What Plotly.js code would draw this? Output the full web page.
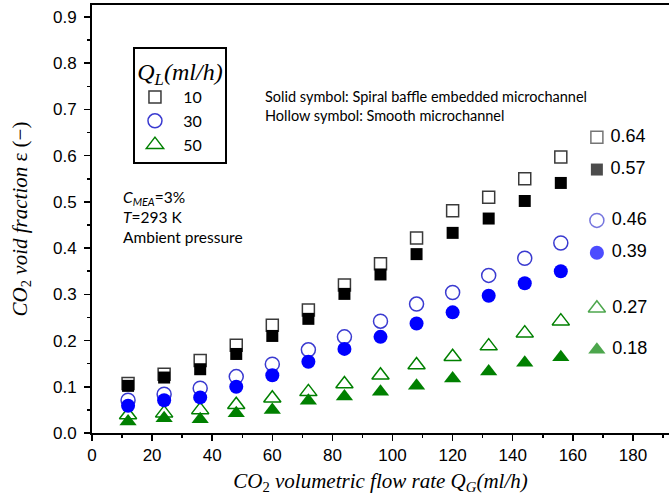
<!DOCTYPE html>
<html>
<head>
<meta charset="utf-8">
<script src="https://cdn.plot.ly/plotly-3.0.1.min.js"></script>
<style>html,body{margin:0;padding:0;background:#fff;}#chart{width:669px;height:495px;}</style>
</head>
<body>
<div id="chart"></div>
<script>
// CO2 volumetric flow rate Q_G (ml/h)
const flowRateQG = [12, 24, 36, 48, 60, 72, 84, 96, 108, 120, 132, 144, 156];

// Void fraction, hollow = smooth microchannel, solid = spiral baffle embedded microchannel
const smoothQL10 = [0.107, 0.127, 0.157, 0.190, 0.233, 0.266, 0.320, 0.366, 0.422, 0.481, 0.510, 0.550, 0.597];
const spiralQL10 = [0.102, 0.120, 0.138, 0.171, 0.210, 0.247, 0.301, 0.343, 0.387, 0.433, 0.464, 0.502, 0.541];
const smoothQL30 = [0.071, 0.084, 0.097, 0.122, 0.149, 0.180, 0.208, 0.242, 0.279, 0.304, 0.341, 0.378, 0.411];
const spiralQL30 = [0.059, 0.071, 0.077, 0.100, 0.125, 0.154, 0.182, 0.208, 0.237, 0.261, 0.297, 0.324, 0.350];
const smoothQL50 = [0.039, 0.043, 0.050, 0.061, 0.075, 0.089, 0.106, 0.125, 0.147, 0.165, 0.188, 0.216, 0.242];
const spiralQL50 = [0.025, 0.032, 0.030, 0.043, 0.050, 0.070, 0.079, 0.089, 0.102, 0.118, 0.133, 0.152, 0.164];

// Right-hand value labels (placed at their own value)
const sideLabels = ['0.64', '0.57', '0.46', '0.39', '0.27', '0.18'];
const sideLabelX = 168;
const legendNames = ['10', '30', '50'];

const BLACK = '#000000', GREY = '#3a3a3a', BLUE = '#0000ff', BLUE_O = '#3a3ad0', GREEN = '#008000';
const NB = '\u00a0';

const traces = [];
function add(y, symbol, color, size, name, rank) {
  const open = symbol.endsWith('-open');
  traces.push({
    type: 'scatter', mode: 'markers', x: flowRateQG, y: y,
    name: name ? NB + NB + name : '', showlegend: !!name, legendrank: rank || 1000,
    marker: {symbol: symbol, size: size, color: color,
             line: {width: open ? 1.5 : 0, color: color}},
    hoverinfo: 'x+y'
  });
}
add(smoothQL50, 'triangle-up-open', GREEN, 15, legendNames[2], 3);
add(spiralQL50, 'triangle-up', GREEN, 15);
add(smoothQL30, 'circle-open', BLUE_O, 14, legendNames[1], 2);
add(spiralQL30, 'circle', BLUE, 14);
add(smoothQL10, 'square-open', GREY, 12, legendNames[0], 1);
add(spiralQL10, 'square', BLACK, 12);

traces.push({
  type: 'scatter', mode: 'markers+text', showlegend: false,
  x: sideLabels.map(() => sideLabelX),
  y: sideLabels.map(Number),
  text: sideLabels.map(s => NB + s), textposition: 'middle right',
  textfont: {family: 'Liberation Sans, Arial, sans-serif', size: 18, color: '#000'},
  marker: {
    symbol: ['square-open', 'square', 'circle-open', 'circle', 'triangle-up-open', 'triangle-up'],
    size: [12, 12, 14, 14, 15, 15],
    color: [GREY, BLACK, BLUE_O, BLUE, GREEN, GREEN],
    line: {width: [1.5, 0, 1.5, 0, 1.5, 0], color: [GREY, BLACK, BLUE_O, BLUE, GREEN, GREEN]}
  },
  hoverinfo: 'skip'
});

const axisFont = {family: 'Liberation Sans, Arial, sans-serif', size: 17, color: '#000'};
const titleFont = {family: 'Liberation Serif, Times New Roman, serif', size: 21, color: '#000'};

const layout = {
  width: 669, height: 495,
  margin: {l: 92, r: 0, t: 5, b: 62},
  paper_bgcolor: '#fff', plot_bgcolor: '#fff',
  showlegend: true,
  xaxis: {
    range: [0, 192], dtick: 20, tick0: 0,
    showgrid: false, zeroline: false,
    showline: true, linecolor: '#000', linewidth: 2, mirror: true,
    ticks: 'outside', ticklen: 6, tickwidth: 1.5, tickcolor: '#000',
    minor: {dtick: 10, ticks: 'outside', ticklen: 3, tickwidth: 1.5, tickcolor: '#000'},
    tickfont: axisFont,
    title: {text: '<i>CO</i><sub>2</sub><i> volumetric flow rate Q</i><sub><i>G</i></sub><i>(ml/h)</i>',
            font: titleFont, standoff: 9},
    automargin: false
  },
  yaxis: {
    range: [0, 0.926], dtick: 0.1, tick0: 0, tickformat: '.1f',
    showgrid: false, zeroline: false,
    showline: true, linecolor: '#000', linewidth: 2, mirror: false,
    ticks: 'outside', ticklen: 6, tickwidth: 1.5, tickcolor: '#000',
    minor: {dtick: 0.05, ticks: 'outside', ticklen: 3, tickwidth: 1.5, tickcolor: '#000'},
    tickfont: axisFont, ticklabelstandoff: 4,
    title: {text: '<i>CO</i><sub>2</sub><i> void fraction</i> ε (−)', font: titleFont, standoff: 20},
    automargin: false
  },
  legend: {
    x: 0.071, y: 0.902, xanchor: 'left', yanchor: 'top',
    bgcolor: '#fff', bordercolor: '#000', borderwidth: 2,
    font: {family: 'Lato, Open Sans, sans-serif', size: 16, color: '#000'},
    title: {text: '<i>Q</i><sub><i>L</i></sub><i>(ml/h)</i>', side: 'top center',
            font: {family: 'Liberation Serif, Times New Roman, serif', size: 24, color: '#000'}},
    tracegroupgap: 0, itemsizing: 'trace'
  },
  annotations: [
    {xref: 'paper', yref: 'paper', x: (263 - 92) / 577, y: (433 - 106) / 428,
     xanchor: 'left', yanchor: 'middle', align: 'left', showarrow: false,
     text: 'Solid symbol: Spiral baffle embedded microchannel<br>Hollow symbol: Smooth microchannel',
     font: {family: 'Lato, Open Sans, sans-serif', size: 14.5, color: '#000'}},
    {xref: 'paper', yref: 'paper', x: (121 - 92) / 577, y: (433 - 217) / 428,
     xanchor: 'left', yanchor: 'middle', align: 'left', showarrow: false,
     text: '<i>C</i><sub><i>MEA</i></sub>=3%<br><i>T</i>=293 K<br>Ambient pressure',
     font: {family: 'Lato, Open Sans, sans-serif', size: 15.5, color: '#000'}}
  ]
};

Plotly.newPlot('chart', traces, layout, {displayModeBar: false, staticPlot: true});
</script>
</body>
</html>
